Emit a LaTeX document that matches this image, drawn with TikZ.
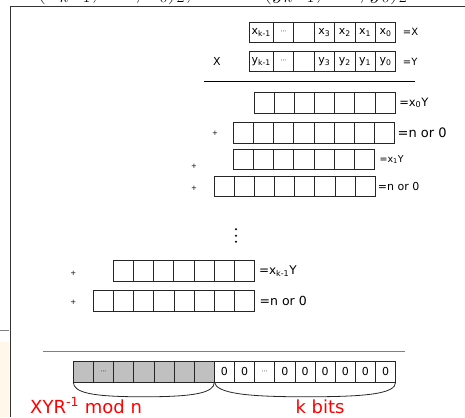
\documentclass[tikz,border=0pt]{standalone}
\usepackage[no-math]{fontspec}
\setmainfont{DejaVu Sans}
\usetikzlibrary{positioning}
\definecolor{inkgrey}{HTML}{333333}
\definecolor{rulegrey}{HTML}{7F7F7F}
\definecolor{cellgrey}{HTML}{C0C0C0}
\definecolor{notecream}{HTML}{FFF8EA}
\newcommand{\celldots}{{\fontsize{6}{7}\selectfont\textperiodcentered\textperiodcentered\textperiodcentered}}
\tikzset{
  mm cell/.style={draw=black!85, line width=0.8pt, anchor=north west, inner sep=0pt, outer sep=0pt,
                  minimum height=20.4pt, font=\fontsize{11}{12}\selectfont},
  mm lbl/.style={anchor=west, inner sep=0pt, font=\fontsize{10}{12}\selectfont},
  mm plus/.style={inner sep=0pt, font=\fontsize{7}{8}\selectfont},
  mm red/.style={anchor=base west, inner sep=0pt, text=red, font=\fontsize{18}{21}\selectfont},
  mm brace/.style={draw=black!85, line width=0.8pt},
  mm rule/.style={line width=1pt},
}

\begin{document}
\begin{tikzpicture}[x=1pt, y=-1pt]
  \useasboundingbox (0,0) rectangle (465,417);
  \clip (0,0) rectangle (465,417);
  % edge of the next slide and the frame
  \fill[notecream] (0,342) rectangle (9.4,417);
  \draw[rulegrey, line width=0.9pt] (0,330) -- (9.4,330);
  \draw[inkgrey, line width=1pt] (10,417) -- (10,7) -- (465,7);
  % the operands in binary, above the frame
  \node[anchor=base west, inner sep=0pt, font=\fontsize{23}{27}\selectfont] (xbin) at (37,-1) {$(x_{k-1},\ldots,x_0)_2,$};
  \node[anchor=base west, inner sep=0pt, font=\fontsize{23}{27}\selectfont] (ybin) at (263,-1) {$(y_{k-1},\ldots,y_0)_2$};
  % X and Y, bit by bit
  \node[mm cell, minimum width=24pt] (X1) at (249.3,22) {x\textsubscript{k-1}};
  \foreach \t [count=\i from 2] in {\celldots,{},x\textsubscript{3},x\textsubscript{2},x\textsubscript{1},x\textsubscript{0}}
    \node[mm cell, minimum width=20.4pt] (X\i) at ({273.3+(\i-2)*20.4},22) {\t};
  \node[mm cell, minimum width=24pt, minimum height=19.5pt] (Y1) at (249.3,51.7) {y\textsubscript{k-1}};
  \foreach \t [count=\i from 2] in {\celldots,{},y\textsubscript{3},y\textsubscript{2},y\textsubscript{1},y\textsubscript{0}}
    \node[mm cell, minimum width=20.4pt, minimum height=19.5pt] (Y\i) at ({273.3+(\i-2)*20.4},51.7) {\t};
  \node[mm lbl, right=7pt of X7] (lX) {=X};
  \node[mm lbl, right=7pt of Y7] (lY) {=Y};
  \node[mm lbl, anchor=center, font=\fontsize{11}{13}\selectfont] (times) at (217,61) {X};
  \coordinate (sumL) at (204,82);
  \coordinate (sumR) at (415,82);
  \draw[mm rule] (sumL) -- (sumR);
  % partial products and the added multiples of n
  \foreach \r/\lx/\ty/\n in {a/254/92.7/7, b/233.3/122.7/8, c/233.3/149.3/7, d/214/176/8, e/113.3/260.7/7, f/93.3/290.7/8}
    \foreach \i in {1,...,\n}
      \node[mm cell, minimum width=20.15pt] (\r\i) at ({\lx+(\i-1)*20.15},\ty) {};
  \node[mm lbl, font=\fontsize{11.5}{13}\selectfont, right=4pt of a7] (la) {=x\textsubscript{0}Y};
  \node[mm lbl, font=\fontsize{13}{15}\selectfont, right=3pt of b8] (lb) {=n or 0};
  \node[mm lbl, font=\fontsize{9.5}{11}\selectfont, right=5pt of c7] (lc) {=x\textsubscript{1}Y};
  \node[mm lbl, font=\fontsize{11}{13}\selectfont, right=2.5pt of d8] (ld) {=n or 0};
  \node[mm lbl, font=\fontsize{12}{14}\selectfont, right=4.5pt of e7] (le) {=x\textsubscript{k-1}Y};
  \node[mm lbl, font=\fontsize{12.5}{15}\selectfont, right=5pt of f8] (lf) {=n or 0};
  \foreach \r/\px/\py in {b/215/133, c/194/166.5, d/194/188, e/73.3/273.3, f/73.3/302.7}
    \node[mm plus] (p\r) at (\px,\py) {+};
  \foreach \dy in {229.3,235.7,241.7} \fill (236,\dy) circle (1.1pt);
  % the sum: high half is the result, low k bits are zero
  \coordinate (resL) at (43.3,351.7);
  \coordinate (resR) at (405,351.7);
  \draw[rulegrey, line width=1.3pt] (resL) -- (resR);
  \foreach \t [count=\i] in {{},\celldots,{},{},{},{},{}}
    \node[mm cell, fill=cellgrey, minimum width=20.15pt] (s\i) at ({73.3+(\i-1)*20.15},361.7) {\t};
  \foreach \t [count=\i from 8] in {0,0,\celldots,0,0,0,0,0,0}
    \node[mm cell, font=\fontsize{11}{13}\selectfont, minimum width=20.15pt] (s\i) at ({73.3+(\i-1)*20.15},361.7) {\t};
  \coordinate (hiB) at (143.6,396.8);
  \coordinate (loB) at (305,396.8);
  \draw[mm brace] (s1.south west) .. controls +(0,11) and +(-50,0) .. (hiB) .. controls +(50,0) and +(0,11) .. (s7.south east);
  \draw[mm brace] (s8.south west) .. controls +(2,11) and +(-60,0) .. (loB) .. controls +(60,0) and +(0,12) .. (s16.south east);
  \node[mm red] (modn) at (30,413) {XYR\textsuperscript{-1} mod n};
  \node[mm red, anchor=base] (kbits) at (320,413) {k bits};
\end{tikzpicture}
\end{document}
